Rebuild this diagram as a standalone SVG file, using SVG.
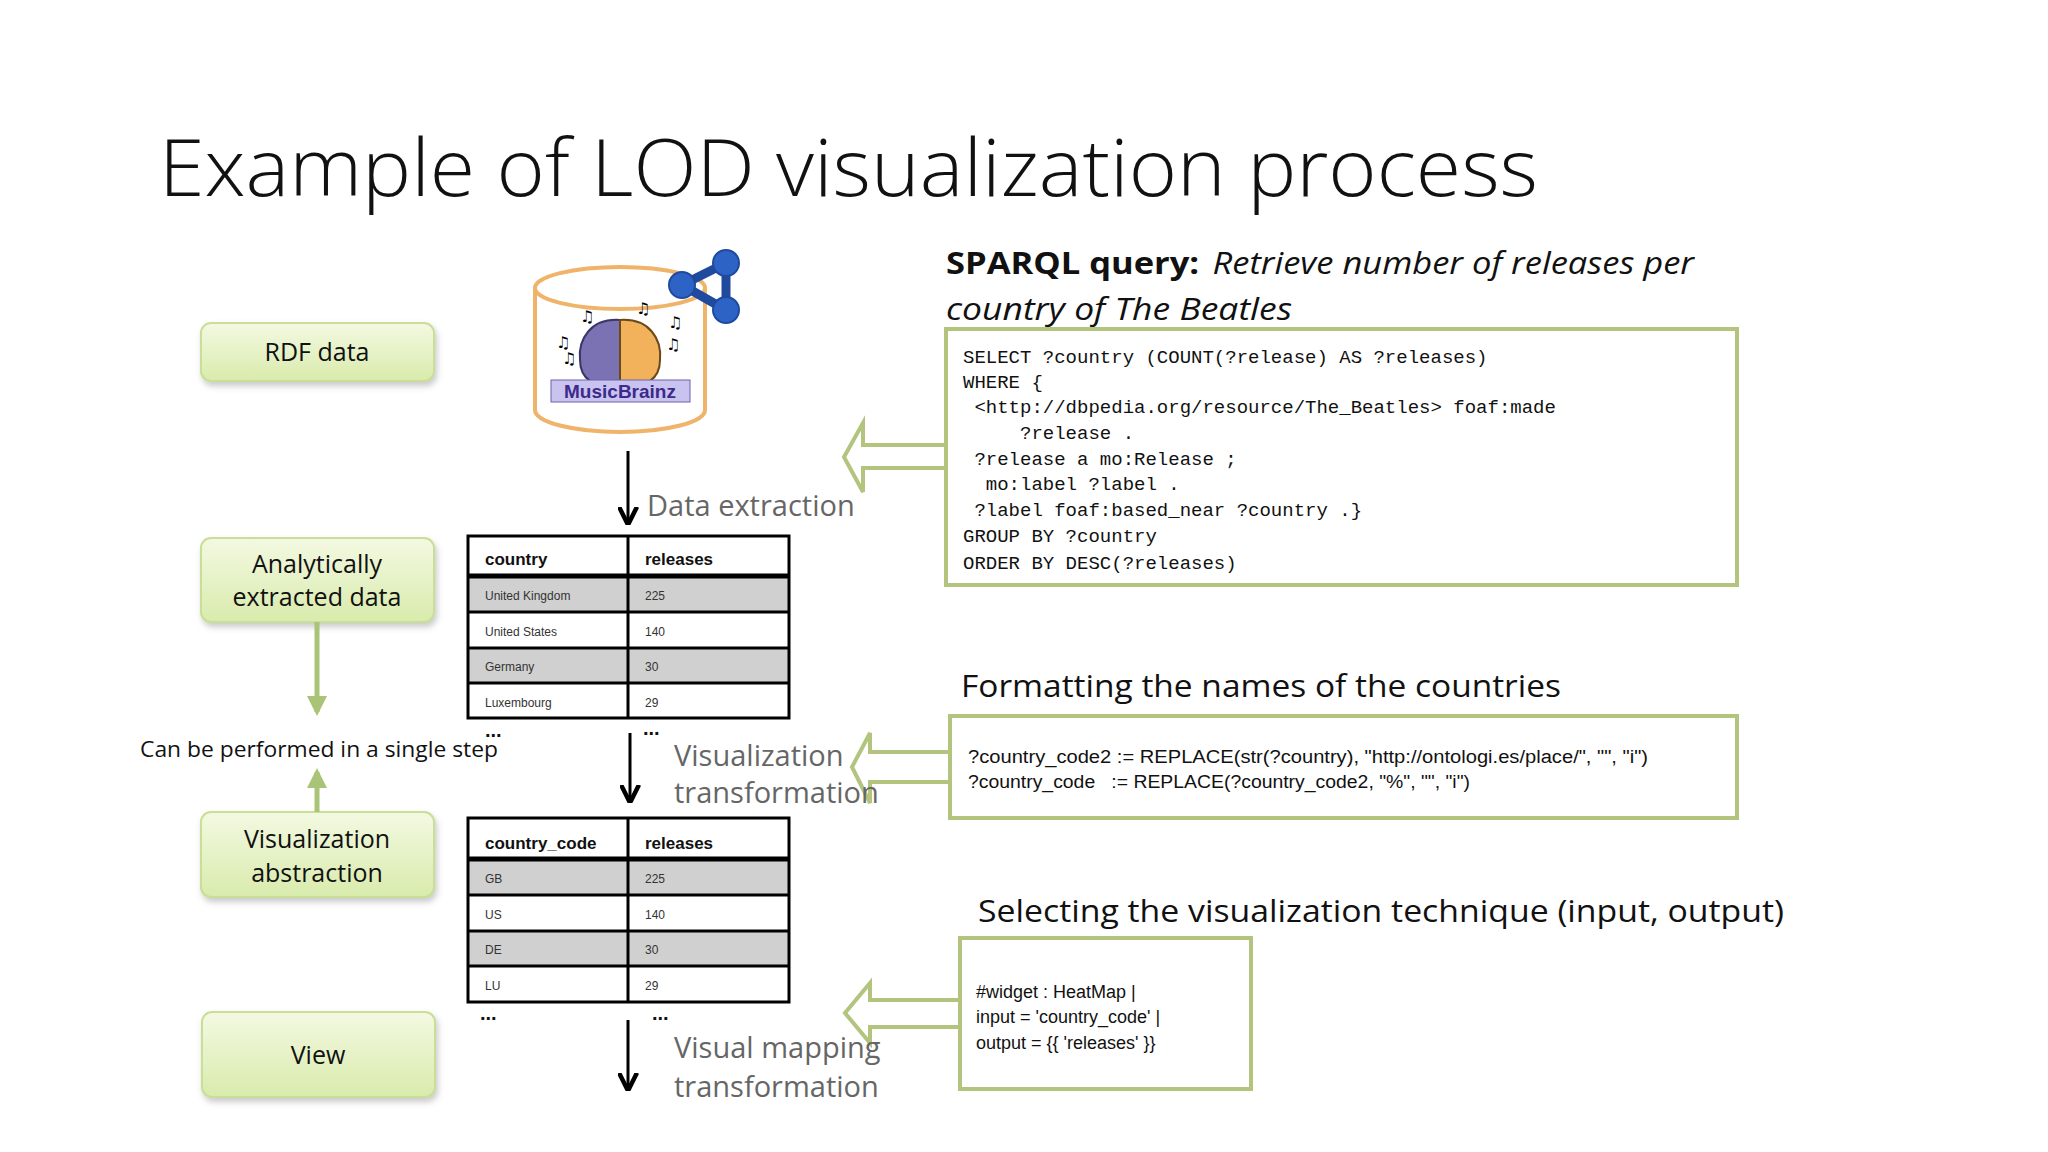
<svg xmlns="http://www.w3.org/2000/svg" width="2048" height="1152" viewBox="0 0 2048 1152">
<defs>
<linearGradient id="gbox" x1="0" y1="0" x2="0" y2="1"><stop offset="0" stop-color="#f3f9e2"/><stop offset="1" stop-color="#d9ebac"/></linearGradient>
<filter id="sh" x="-10%" y="-10%" width="130%" height="140%"><feDropShadow dx="2" dy="4" stdDeviation="3" flood-color="#888" flood-opacity="0.45"/></filter>
<marker id="blk" viewBox="0 0 10 10" refX="9" refY="5" markerWidth="6" markerHeight="7" orient="auto"><path d="M0,0 L10,5 L0,10" fill="none" stroke="#000" stroke-width="2.5"/></marker>
<marker id="grn" viewBox="0 0 10 10" refX="8" refY="5" markerWidth="4" markerHeight="4" orient="auto"><path d="M0,0 L10,5 L0,10 Z" fill="#a9c477"/></marker>
</defs>
<style>
.box{fill:url(#gbox);stroke:#c9de96;stroke-width:2;filter:url(#sh)}
.bt{font-family:"Open Sans","Liberation Sans",sans-serif;font-size:25px;fill:#111;text-anchor:middle}
.lbl{font-family:"Open Sans","Liberation Sans",sans-serif;font-size:29px;fill:#666}
.hd{font-family:"Open Sans","Liberation Sans",sans-serif;font-size:31px;fill:#111}
.code{font-family:"Liberation Mono",monospace;font-size:19px;fill:#111}
.nar{font-family:"Liberation Sans Narrow","Liberation Sans",sans-serif;font-size:18px;fill:#111}
.panel{fill:#fff;stroke:#b3c47f;stroke-width:4}
.hollow{fill:#fff;stroke:#b3c47f;stroke-width:4;stroke-linejoin:miter}
.th{font-family:"Liberation Sans",sans-serif;font-weight:bold;font-size:17px;fill:#111}
.td{font-family:"Liberation Sans",sans-serif;font-size:12px;fill:#333}
.gl{fill:none;stroke:#000;stroke-width:3}
.dots{font-family:"Liberation Sans",sans-serif;font-weight:bold;font-size:20px;fill:#111}
.flow{stroke:#000;stroke-width:3;fill:none;marker-end:url(#blk)}
</style>
<rect width="2048" height="1152" fill="#fff"/>
<text x="159" y="196" font-family="Open Sans, Liberation Sans, sans-serif" font-weight="300" font-size="80" fill="#111" textLength="1379" lengthAdjust="spacingAndGlyphs">Example of LOD visualization process</text>

<g id="rdf-data"><rect class="box" x="201" y="323" width="233" height="58" rx="10"/><text class="bt" x="317" y="361">RDF data</text></g>
<g id="analytically-extracted"><rect class="box" x="201" y="538" width="233" height="84" rx="10"/><text class="bt" x="317" y="573">Analytically</text><text class="bt" x="317" y="606">extracted data</text></g>
<g id="visualization-abstraction"><rect class="box" x="201" y="812" width="233" height="85" rx="10"/><text class="bt" x="317" y="848">Visualization</text><text class="bt" x="317" y="882">abstraction</text></g>
<g id="view"><rect class="box" x="202" y="1012" width="233" height="85" rx="10"/><text class="bt" x="318" y="1064">View</text></g>
<text x="140" y="757" font-family="Open Sans, Liberation Sans, sans-serif" font-size="22" fill="#111" textLength="358" lengthAdjust="spacingAndGlyphs">Can be performed in a single step</text>

<g id="musicbrainz">
<path d="M535,288 L535,410 A85,22 0 0 0 705,410 L705,288" fill="#fff" stroke="#f0b36a" stroke-width="4"/>
<ellipse cx="620" cy="288" rx="85" ry="21" fill="#fff" stroke="#f0b36a" stroke-width="4"/>
<path d="M620,320 C590,318 578,340 580,360 C580,378 592,388 620,388 Z" fill="#7a72b3" stroke="#3a356a" stroke-width="2"/>
<path d="M620,320 C650,318 662,340 660,360 C660,378 648,388 620,388 Z" fill="#f2b25b" stroke="#6a4a1a" stroke-width="2"/>
<rect x="551" y="380" width="139" height="22" fill="#c9c3ef" stroke="#6a62aa"/>
<text x="620" y="398" text-anchor="middle" font-family="Liberation Sans, sans-serif" font-weight="bold" font-size="19" fill="#3d2a8a">MusicBrainz</text>
<text x="580" y="322" font-size="16" font-family="DejaVu Sans, sans-serif">♫</text>
<text x="636" y="314" font-size="16" font-family="DejaVu Sans, sans-serif">♫</text>
<text x="668" y="328" font-size="16" font-family="DejaVu Sans, sans-serif">♫</text>
<text x="556" y="348" font-size="16" font-family="DejaVu Sans, sans-serif">♫</text>
<text x="562" y="364" font-size="16" font-family="DejaVu Sans, sans-serif">♫</text>
<text x="666" y="350" font-size="16" font-family="DejaVu Sans, sans-serif">♫</text>
<g fill="#2e63c6" stroke="#1f4a9e" stroke-width="2"><line x1="726" y1="263" x2="682" y2="285" stroke-width="9"/><line x1="682" y1="285" x2="726" y2="310" stroke-width="9"/><line x1="726" y1="263" x2="726" y2="310" stroke-width="9"/><circle cx="726" cy="263" r="13"/><circle cx="682" cy="285" r="13"/><circle cx="726" cy="310" r="13"/></g>
</g>

<g id="connectors">
<path class="flow" d="M628,451 V523"/>
<path class="flow" d="M630,733 V801"/>
<path class="flow" d="M628,1020 V1089"/>
<path d="M317,622 V712" stroke="#a9c477" stroke-width="5" marker-end="url(#grn)"/>
<path d="M317,812 V772" stroke="#a9c477" stroke-width="5" marker-end="url(#grn)"/>
<path class="hollow" d="M946,445 H863 V423 L844,457 L863,492 V468 H946"/>
<path class="hollow" d="M950,752 H870 V733 L852,767 L870,803 V782 H950"/>
<path class="hollow" d="M960,1000 H870 V983 L845,1013 L870,1043 V1027 H960"/>
</g>
<text class="lbl" x="647" y="516">Data extraction</text>
<text class="lbl" x="674" y="766">Visualization</text>
<text class="lbl" x="674" y="803">transformation</text>
<text class="lbl" x="674" y="1058">Visual mapping</text>
<text class="lbl" x="674" y="1097">transformation</text>

<g id="table-country">
<rect x="468" y="577" width="321" height="35" fill="#d0d0d0"/><rect x="468" y="648" width="321" height="35" fill="#d0d0d0"/>
<rect class="gl" x="468" y="536" width="321" height="182"/>
<line x1="468" y1="576" x2="789" y2="576" stroke="#000" stroke-width="5"/>
<line class="gl" x1="468" y1="612" x2="789" y2="612"/><line class="gl" x1="468" y1="648" x2="789" y2="648"/><line class="gl" x1="468" y1="683" x2="789" y2="683"/>
<line class="gl" x1="628" y1="536" x2="628" y2="718"/>
<text class="th" x="485" y="565">country</text><text class="th" x="645" y="565">releases</text>
<text class="td" x="485" y="600">United Kingdom</text><text class="td" x="645" y="600">225</text>
<text class="td" x="485" y="636">United States</text><text class="td" x="645" y="636">140</text>
<text class="td" x="485" y="671">Germany</text><text class="td" x="645" y="671">30</text>
<text class="td" x="485" y="707">Luxembourg</text><text class="td" x="645" y="707">29</text>
<text class="dots" x="485" y="737">...</text><text class="dots" x="643" y="735">...</text>
</g>
<g id="table-country-code">
<rect x="468" y="860" width="321" height="35" fill="#d0d0d0"/><rect x="468" y="931" width="321" height="35" fill="#d0d0d0"/>
<rect class="gl" x="468" y="818" width="321" height="184"/>
<line x1="468" y1="859" x2="789" y2="859" stroke="#000" stroke-width="5"/>
<line class="gl" x1="468" y1="895" x2="789" y2="895"/><line class="gl" x1="468" y1="931" x2="789" y2="931"/><line class="gl" x1="468" y1="966" x2="789" y2="966"/>
<line class="gl" x1="628" y1="818" x2="628" y2="1002"/>
<text class="th" x="485" y="849">country_code</text><text class="th" x="645" y="849">releases</text>
<text class="td" x="485" y="883">GB</text><text class="td" x="645" y="883">225</text>
<text class="td" x="485" y="919">US</text><text class="td" x="645" y="919">140</text>
<text class="td" x="485" y="954">DE</text><text class="td" x="645" y="954">30</text>
<text class="td" x="485" y="990">LU</text><text class="td" x="645" y="990">29</text>
<text class="dots" x="480" y="1020">...</text><text class="dots" x="652" y="1020">...</text>
</g>

<g id="sparql">
<text x="946" y="274" font-family="Open Sans, Liberation Sans, sans-serif" font-size="31" fill="#111" textLength="748" lengthAdjust="spacingAndGlyphs"><tspan font-weight="bold">SPARQL query:</tspan><tspan font-style="italic" dx="12">Retrieve number of releases per</tspan></text>
<text x="946" y="320" font-family="Open Sans, Liberation Sans, sans-serif" font-size="31" font-style="italic" fill="#111" textLength="346" lengthAdjust="spacingAndGlyphs">country of The Beatles</text>
<rect class="panel" x="946" y="329" width="791" height="256"/>
<g class="code">
<text x="963" y="363" xml:space="preserve">SELECT ?country (COUNT(?release) AS ?releases)</text>
<text x="963" y="388" xml:space="preserve">WHERE {</text>
<text x="963" y="413" xml:space="preserve"> &lt;http://dbpedia.org/resource/The_Beatles&gt; foaf:made</text>
<text x="963" y="439" xml:space="preserve">     ?release .</text>
<text x="963" y="465" xml:space="preserve"> ?release a mo:Release ;</text>
<text x="963" y="490" xml:space="preserve">  mo:label ?label .</text>
<text x="963" y="516" xml:space="preserve"> ?label foaf:based_near ?country .}</text>
<text x="963" y="542" xml:space="preserve">GROUP BY ?country</text>
<text x="963" y="569" xml:space="preserve">ORDER BY DESC(?releases)</text>
</g>
</g>
<g id="formatting">
<text class="hd" x="961" y="697" textLength="600" lengthAdjust="spacingAndGlyphs">Formatting the names of the countries</text>
<rect class="panel" x="950" y="716" width="787" height="102"/>
<text class="nar" x="968" y="763" textLength="680" lengthAdjust="spacingAndGlyphs">?country_code2 := REPLACE(str(?country), "http://ontologi.es/place/", "", "i")</text>
<text class="nar" x="968" y="788" xml:space="preserve" textLength="502" lengthAdjust="spacingAndGlyphs">?country_code   := REPLACE(?country_code2, "%", "", "i")</text>
</g>
<g id="selecting">
<text class="hd" x="978" y="922" textLength="806" lengthAdjust="spacingAndGlyphs">Selecting the visualization technique (input, output)</text>
<rect class="panel" x="960" y="938" width="291" height="151"/>
<text class="nar" x="976" y="998">#widget : HeatMap |</text>
<text class="nar" x="976" y="1023">input = 'country_code' |</text>
<text class="nar" x="976" y="1049">output = {{ 'releases' }}</text>
</g>
</svg>
